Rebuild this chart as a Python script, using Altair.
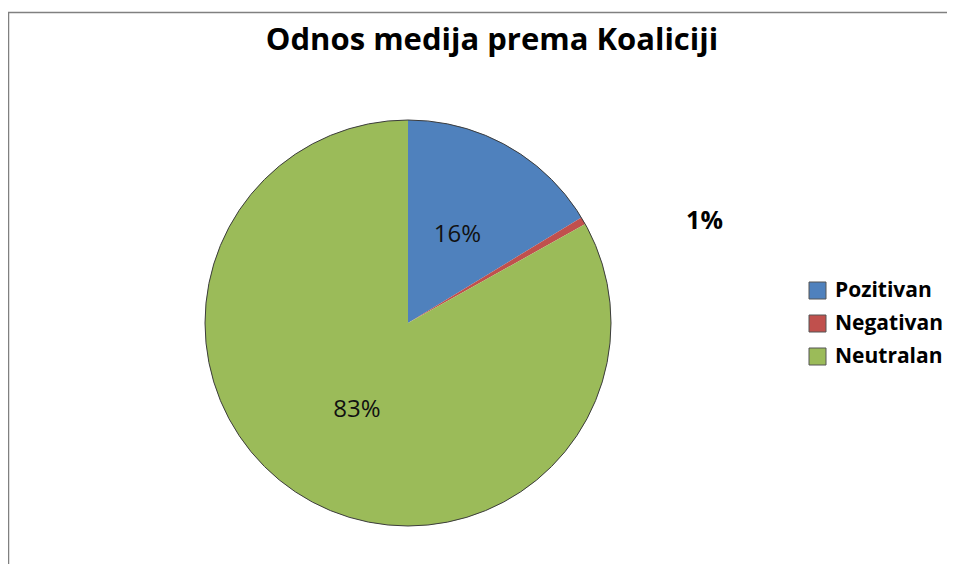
import altair as alt
import pandas as pd

categories = ["Pozitivan", "Negativan", "Neutralan"]
values = [16.3, 0.6, 83.1]
labels = ["16%", "1%", "83%"]
colors = ["#4F81BD", "#C0504D", "#9BBB59"]
title_text = "Odnos medija prema Koaliciji"

df = pd.DataFrame({
    "kategorija": categories,
    "vrijednost": values,
    "oznaka": labels,
    "red": list(range(len(categories))),
})

CX, CY, R = 392, 307, 203
W, H = 931, 548

base = alt.Chart(df).encode(
    theta=alt.Theta("vrijednost:Q", stack=True),
    order=alt.Order("red:Q"),
    x=alt.value(CX),
    y=alt.value(CY),
)

pie = base.mark_arc(radius=R, strokeWidth=0).encode(
    color=alt.Color(
        "kategorija:N",
        scale=alt.Scale(domain=categories, range=colors),
        sort=categories,
        legend=alt.Legend(
            title=None,
            orient="none",
            legendX=791,
            legendY=264,
            symbolType="square",
            symbolSize=289,
            symbolStrokeColor="#555555",
            symbolStrokeWidth=1,
            symbolOpacity=1,
            labelFont="Open Sans",
            labelFontSize=21,
            labelFontWeight="bold",
            labelColor="#000000",
            labelOffset=7,
            rowPadding=11,
            padding=0,
        ),
    )
)

one = alt.Chart(df).transform_aggregate(ukupno="sum(vrijednost)")

outline = one.mark_arc(radius=R, filled=False, stroke="#3c3c3c", strokeWidth=1).encode(
    theta=alt.Theta("ukupno:Q"),
    x=alt.value(CX),
    y=alt.value(CY),
)

inner_text = base.mark_text(
    radius=101, font="Open Sans", fontSize=24, color="#111111", baseline="middle", align="center"
).encode(
    text=alt.condition(alt.datum.kategorija == "Negativan", alt.value(""), alt.Text("oznaka:N"))
)

outer_text = base.mark_text(
    radius=202, dx=122, font="Open Sans", fontSize=25, fontWeight="bold", color="#000000",
    baseline="middle", align="center"
).encode(
    text=alt.condition(alt.datum.kategorija == "Negativan", alt.Text("oznaka:N"), alt.value(""))
)

title = one.mark_text(
    text=title_text, font="Open Sans", fontSize=31, fontWeight="bold", color="#000000",
    baseline="alphabetic", align="center"
).encode(x=alt.value(476), y=alt.value(34))

top_border = one.mark_rule(color="#808080", strokeWidth=1.5).encode(
    x=alt.value(-8), x2=alt.value(W + 10), y=alt.value(-3.5)
)
left_border = one.mark_rule(color="#808080", strokeWidth=1.5).encode(
    x=alt.value(-7.5), y=alt.value(-3.5), y2=alt.value(H)
)

chart = alt.layer(
    top_border, left_border, pie, outline, inner_text, outer_text, title
).properties(
    width=W,
    height=H,
    padding={"left": 8, "top": 8, "right": 0, "bottom": 0},
    autosize=alt.AutoSizeParams(type="none"),
    background="#ffffff",
).configure_view(stroke=None)

chart.save("out.html", embed_options={"renderer": "svg", "actions": False})
